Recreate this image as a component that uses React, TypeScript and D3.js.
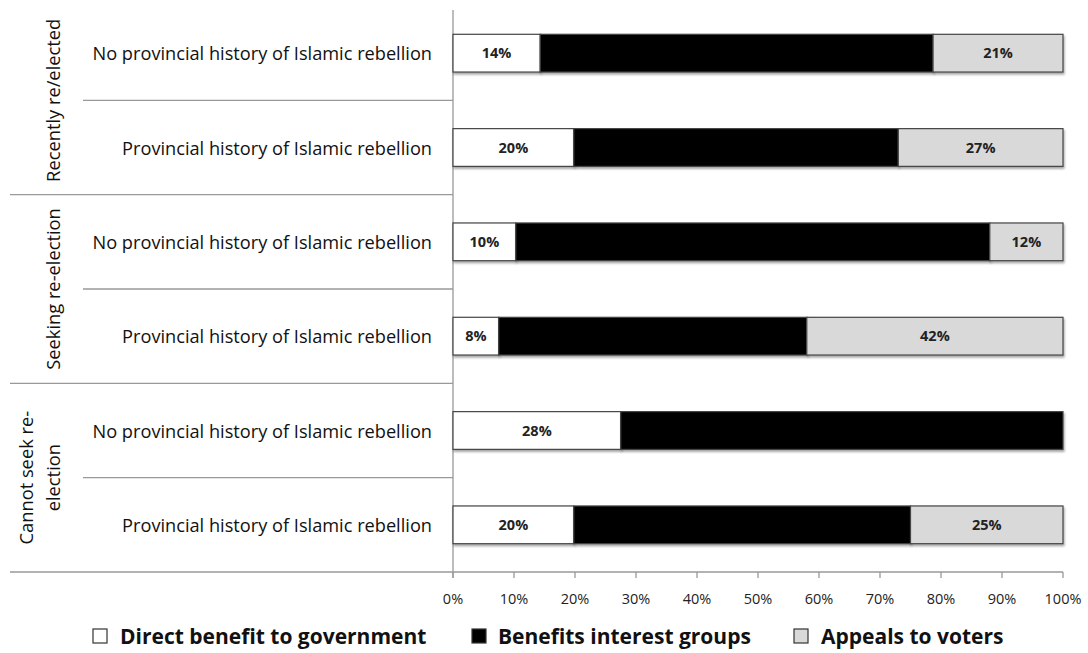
import React from "react";
import * as d3 from "d3";

const rowLabels = [
  "No provincial history of Islamic rebellion",
  "Provincial history of Islamic rebellion",
  "No provincial history of Islamic rebellion",
  "Provincial history of Islamic rebellion",
  "No provincial history of Islamic rebellion",
  "Provincial history of Islamic rebellion",
];
const groupLabels = [["Recently re/elected"], ["Seeking re-election"], ["Cannot seek re-", "election"]];
const seriesNames = ["Direct benefit to government", "Benefits interest groups", "Appeals to voters"];
const directBenefit = [14.3, 19.8, 10.3, 7.5, 27.5, 19.8];
const interestGroups = [64.4, 53.2, 77.7, 50.5, 72.5, 55.2];
const appealsVoters = [21.3, 27.0, 12.0, 42.0, 0, 25.0];
const directLabels = ["14%", "20%", "10%", "8%", "28%", "20%"];
const voterLabels = ["21%", "27%", "12%", "42%", "", "25%"];
const xTicks = [0, 10, 20, 30, 40, 50, 60, 70, 80, 90, 100];

const W = 1088, H = 653;
const FONT = "'Open Sans', sans-serif";
const fills = ["#ffffff", "#000000", "#d9d9d9"];

export default function App() {
  const x = d3.scaleLinear().domain([0, 100]).range([453, 1063]);
  const y = d3.scaleBand<number>().domain(d3.range(6)).range([6, 572]).paddingInner(0.6).paddingOuter(0.3);
  const step = y.step();
  const top = 6;
  const rows = rowLabels.map((l, i) => {
    const a = directBenefit[i], b = interestGroups[i], c = appealsVoters[i];
    return { l, segs: [[0, a], [a, a + b], [a + b, a + b + c]] as [number, number][], i };
  });
  return (
    <svg width={W} height={H} style={{ position: "absolute", left: 0, top: 0, background: "#fff" }}>
      <defs>
        <filter id="sh" x="-5%" y="-20%" width="110%" height="160%">
          <feDropShadow dx="1" dy="2" stdDeviation="1" floodColor="#000" floodOpacity="0.35" />
        </filter>
      </defs>
      {/* separators */}
      {d3.range(1, 7).map((k) => (
        <line key={k} x1={k % 2 === 0 ? 10 : 83} x2={453} y1={top + k * step} y2={top + k * step} stroke="#999" strokeWidth={1.3} />
      ))}
      {/* axis */}
      <line x1={453} x2={453} y1={10} y2={578} stroke="#999" strokeWidth={1.3} />
      <line x1={453} x2={1063} y1={572} y2={572} stroke="#999" strokeWidth={1.3} />
      {xTicks.map((t) => (
        <g key={t}>
          <line x1={x(t)} x2={x(t)} y1={572} y2={578} stroke="#999" strokeWidth={1.3} />
          <text x={x(t)} y={604} textAnchor="middle" fontFamily={FONT} fontSize={14.5} fill="#222">{t}%</text>
        </g>
      ))}
      {/* bars */}
      {rows.map((r) => (
        <g key={r.i}>
          {r.segs.map(([s, e], j) =>
            e - s > 0 ? (
              <rect key={j} x={x(s)} y={y(r.i)!} width={x(e) - x(s)} height={y.bandwidth()} fill={fills[j]} stroke="#444" strokeWidth={1.2} filter="url(#sh)" />
            ) : null
          )}
          <text x={x((r.segs[0][0] + r.segs[0][1]) / 2)} y={y(r.i)! + y.bandwidth() / 2 + 5} textAnchor="middle" fontFamily={FONT} fontWeight={700} fontSize={14.5} fill="#222">{directLabels[r.i]}</text>
          <text x={x((r.segs[2][0] + r.segs[2][1]) / 2)} y={y(r.i)! + y.bandwidth() / 2 + 5} textAnchor="middle" fontFamily={FONT} fontWeight={700} fontSize={14.5} fill="#222">{voterLabels[r.i]}</text>
          <text x={432} y={y(r.i)! + y.bandwidth() / 2 + 7} textAnchor="end" fontFamily={FONT} fontSize={18.2} fill="#111">{r.l}</text>
        </g>
      ))}
      {/* group labels */}
      {groupLabels.map((g, k) => {
        const cy = top + (2 * k + 1) * step;
        return (
          <g key={k}>
            {g.map((line, m) => {
              const cx = g.length === 1 ? 53 : 26 + m * 27;
              return (
                <text key={m} transform={`translate(${cx + 7},${cy}) rotate(-90)`} textAnchor="middle" fontFamily={FONT} fontSize={18.3} fill="#111">{line}</text>
              );
            })}
          </g>
        );
      })}
      {/* legend */}
      {seriesNames.map((n, k) => {
        const lx = [93, 472, 794][k];
        const tx = [120, 498, 821][k];
        return (
          <g key={k}>
            <rect x={lx} y={629} width={14} height={14} fill={fills[k]} stroke="#333" strokeWidth={1.2} />
            <text x={tx} y={644} fontFamily={FONT} fontWeight={700} fontSize={21} fill="#111">{n}</text>
          </g>
        );
      })}
    </svg>
  );
}
